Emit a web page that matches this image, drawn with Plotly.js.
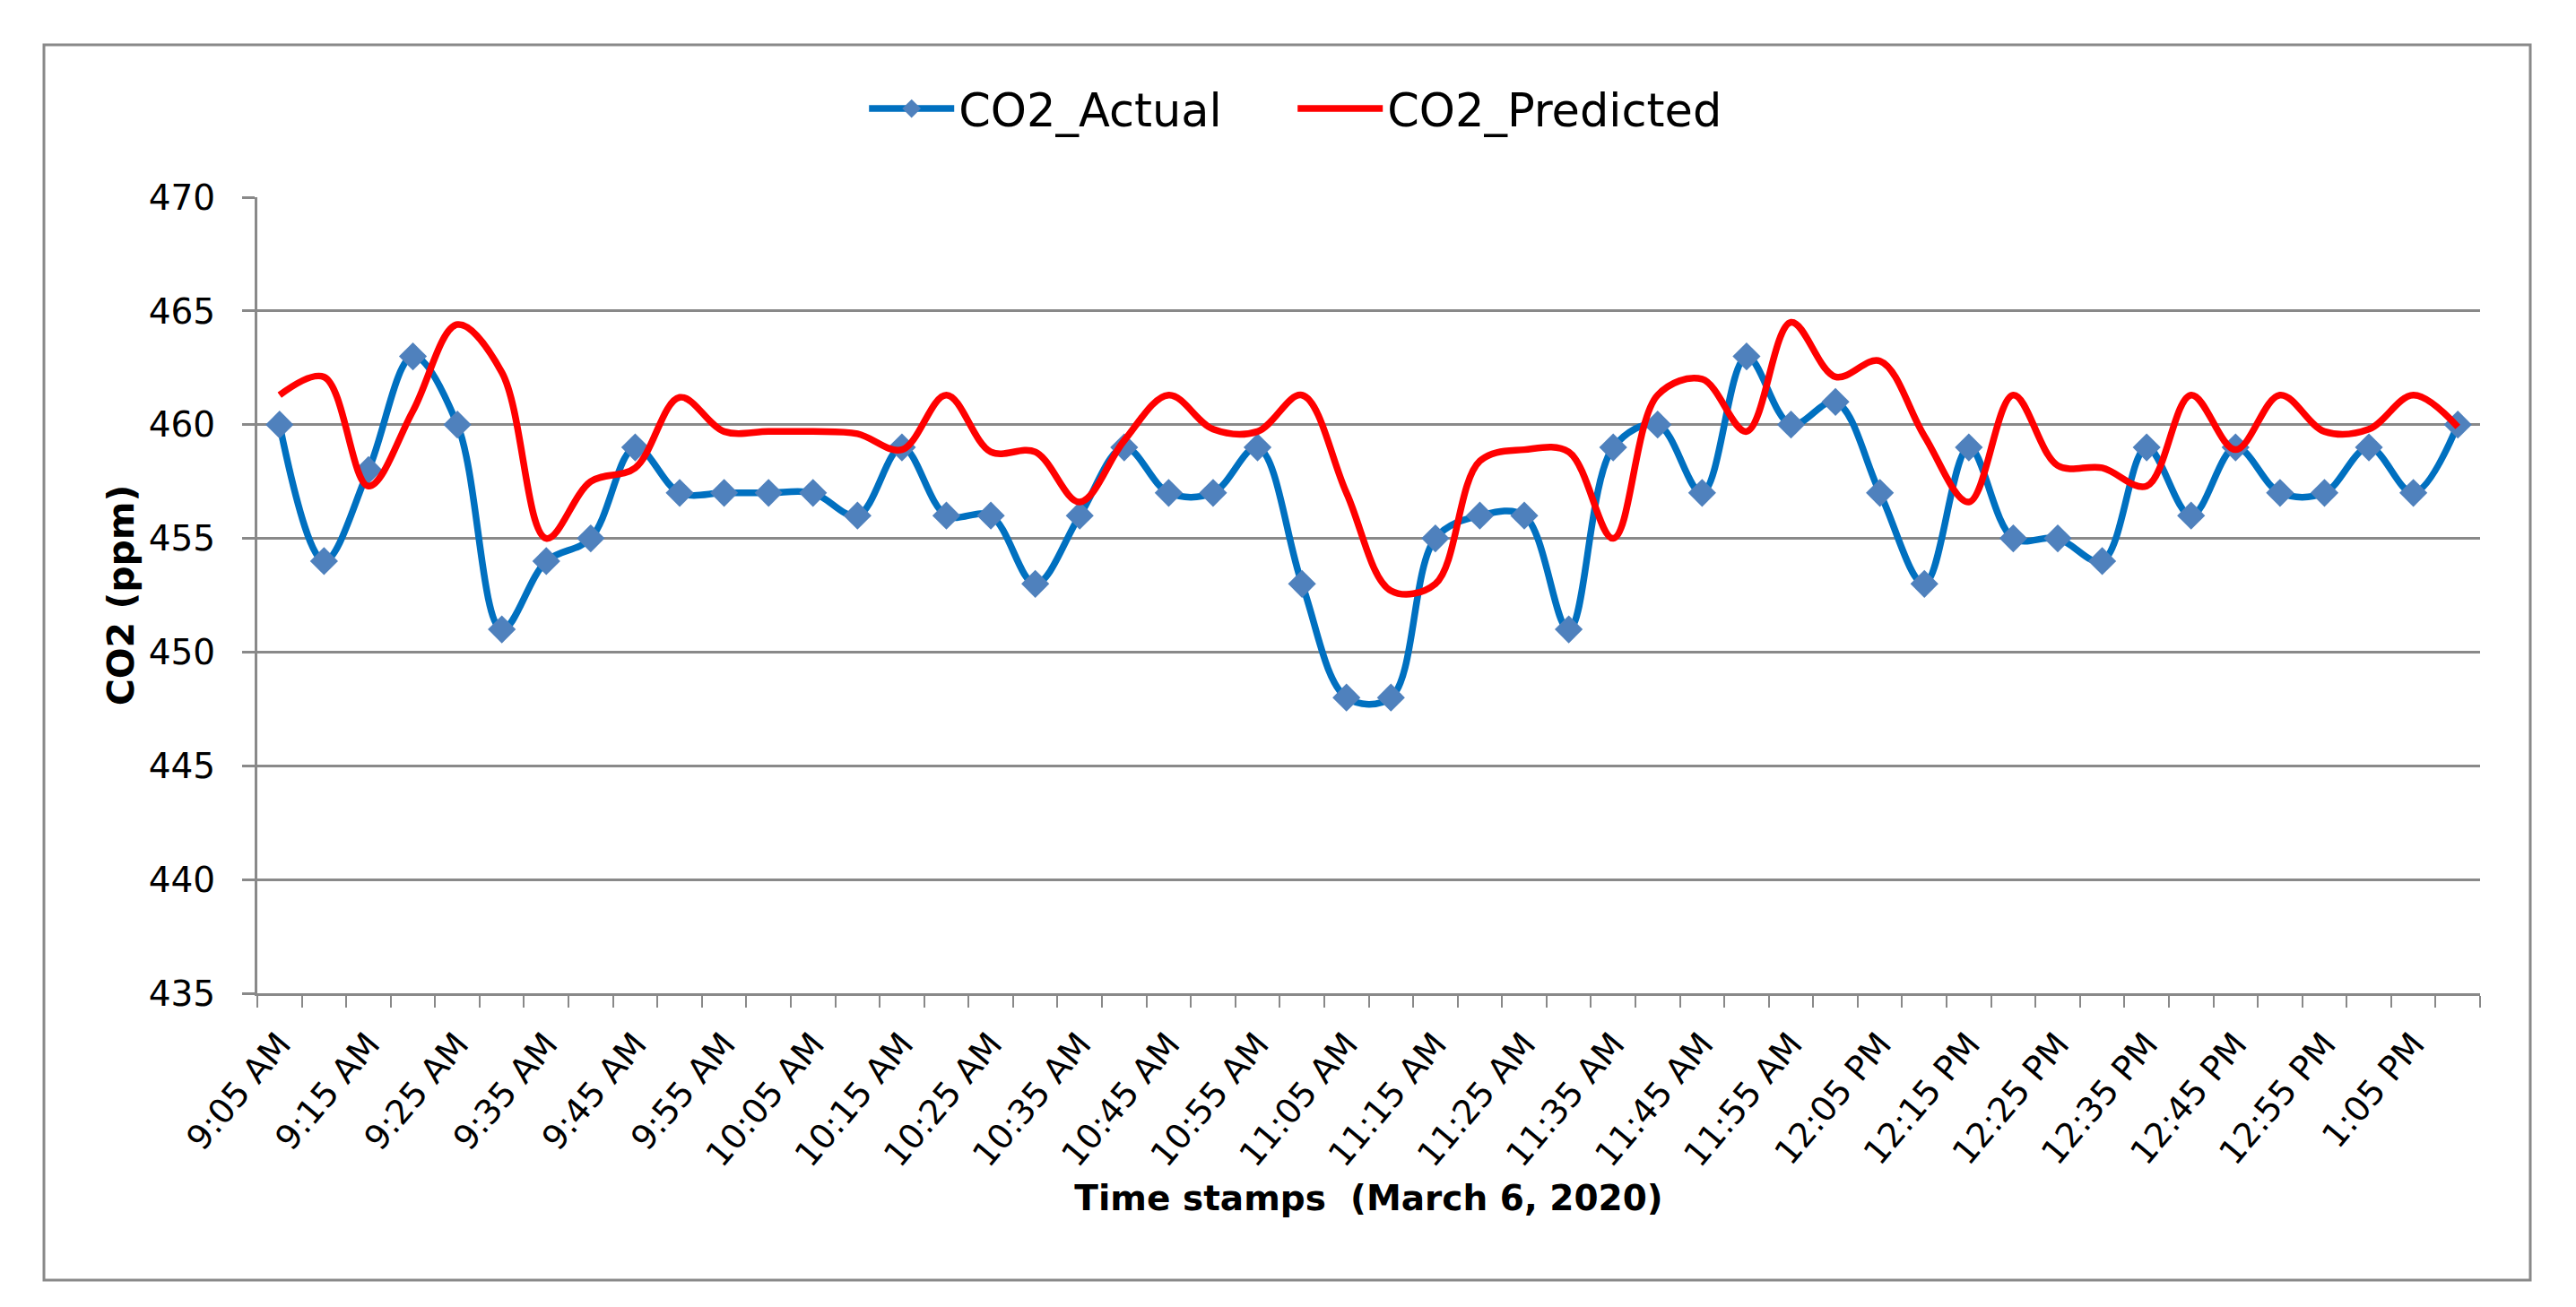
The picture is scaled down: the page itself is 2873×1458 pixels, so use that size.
<!DOCTYPE html>
<html>
<head>
<meta charset="utf-8">
<script src="https://cdn.plot.ly/plotly-3.0.1.min.js"></script>
<style>
  html, body { margin: 0; padding: 0; background: #ffffff; }
  #chart { width: 2873px; height: 1458px; }
</style>
</head>
<body>
<div id="chart"></div>
<script>
// ---- data ----
var timeStamps = [
  "9:05 AM","9:10 AM","9:15 AM","9:20 AM","9:25 AM","9:30 AM","9:35 AM","9:40 AM","9:45 AM","9:50 AM",
  "9:55 AM","10:00 AM","10:05 AM","10:10 AM","10:15 AM","10:20 AM","10:25 AM","10:30 AM","10:35 AM","10:40 AM",
  "10:45 AM","10:50 AM","10:55 AM","11:00 AM","11:05 AM","11:10 AM","11:15 AM","11:20 AM","11:25 AM","11:30 AM",
  "11:35 AM","11:40 AM","11:45 AM","11:50 AM","11:55 AM","12:00 PM","12:05 PM","12:10 PM","12:15 PM","12:20 PM",
  "12:25 PM","12:30 PM","12:35 PM","12:40 PM","12:45 PM","12:50 PM","12:55 PM","1:00 PM","1:05 PM","1:10 PM"
];
var co2Actual = [
  460, 454, 458, 463, 460, 451, 454, 455, 459, 457,
  457, 457, 457, 456, 459, 456, 456, 453, 456, 459,
  457, 457, 459, 453, 448, 448, 455, 456, 456, 451,
  459, 460, 457, 463, 460, 461, 457, 453, 459, 455,
  455, 454, 459, 456, 459, 457, 457, 459, 457, 460
];
var co2Predicted = [
  461.3, 462.1, 457.3, 460.6, 464.4, 462.3, 455.0, 457.5, 458.1, 461.2,
  459.7, 459.7, 459.7, 459.6, 458.9, 461.3, 458.8, 458.8, 456.6, 459.3,
  461.3, 459.8, 459.7, 461.3, 457.0, 452.7, 453.0, 458.4, 458.9, 458.8,
  455.0, 461.3, 462.0, 459.7, 464.5, 462.1, 462.8, 459.5, 456.6, 461.3,
  458.2, 458.1, 457.3, 461.3, 458.9, 461.3, 459.7, 459.8, 461.3, 459.9
];
// every second time stamp is labelled
var tickLabels = timeStamps.map(function (t, i) { return i % 2 === 0 ? t : ""; });
var yTicks = [435, 440, 445, 450, 455, 460, 465, 470];

var gridGray = "#898989";
var font = "DejaVu Sans";

var traces = [
  {
    x: timeStamps, y: co2Actual, name: "CO2_Actual",
    type: "scatter", mode: "lines+markers",
    line: { color: "#0070C0", width: 7.5, shape: "spline", smoothing: 1 },
    marker: { symbol: "diamond", size: 24, color: "#4F81BD", line: { width: 0 } }
  },
  {
    x: timeStamps, y: co2Predicted, name: "CO2_Predicted",
    type: "scatter", mode: "lines",
    line: { color: "#FF0000", width: 7.5, shape: "spline", smoothing: 1 }
  }
];

var layout = {
  width: 2873, height: 1458,
  margin: { l: 287, r: 107, t: 220, b: 350, pad: 0 },
  paper_bgcolor: "#ffffff", plot_bgcolor: "#ffffff",
  font: { family: font, color: "#000000", size: 36 },
  showlegend: true,
  legend: {
    orientation: "h", x: 0.466, xanchor: "center", y: 1.111, yanchor: "middle",
    font: { family: font, size: 51, color: "#000000" },
    itemwidth: 95, entrywidth: 368, entrywidthmode: "pixels", bgcolor: "rgba(0,0,0,0)"
  },
  xaxis: {
    type: "category", categoryorder: "array", categoryarray: timeStamps,
    range: [-0.5, timeStamps.length - 0.5],
    tickmode: "array", tickvals: timeStamps, ticktext: tickLabels,
    tickson: "boundaries", ticks: "outside", ticklen: 13, tickwidth: 2, tickcolor: gridGray,
    tickangle: -50, ticklabelstandoff: 16,
    tickfont: { family: font, size: 38, color: "#000000" },
    showgrid: false, zeroline: false,
    showline: true, linecolor: gridGray, linewidth: 3,
    automargin: false,
    title: { text: "<b>Time stamps\u00a0 (March 6, 2020)</b>", font: { family: font, size: 39, color: "#000000" }, standoff: 14 }
  },
  yaxis: {
    range: [435, 470], tickmode: "array", tickvals: yTicks,
    ticks: "outside", ticklen: 14, tickwidth: 3, tickcolor: gridGray,
    ticklabelstandoff: 22,
    tickfont: { family: font, size: 39, color: "#000000" },
    showgrid: true, gridcolor: gridGray, gridwidth: 3,
    zeroline: false, showline: true, linecolor: gridGray, linewidth: 3,
    automargin: false,
    title: { text: "<b>CO2 (ppm)</b>", font: { family: font, size: 41, color: "#000000" }, standoff: 4 }
  },
  shapes: [
    { type: "rect", xref: "paper", yref: "paper",
      x0: (49 - 287) / 2479, x1: (2822 - 287) / 2479,
      y0: (1108 - 1428) / 888, y1: (1108 - 50) / 888,
      line: { color: gridGray, width: 3 }, fillcolor: "rgba(0,0,0,0)", layer: "below" }
  ]
};

Plotly.newPlot("chart", traces, layout, { staticPlot: true, displayModeBar: false });
</script>
</body>
</html>
